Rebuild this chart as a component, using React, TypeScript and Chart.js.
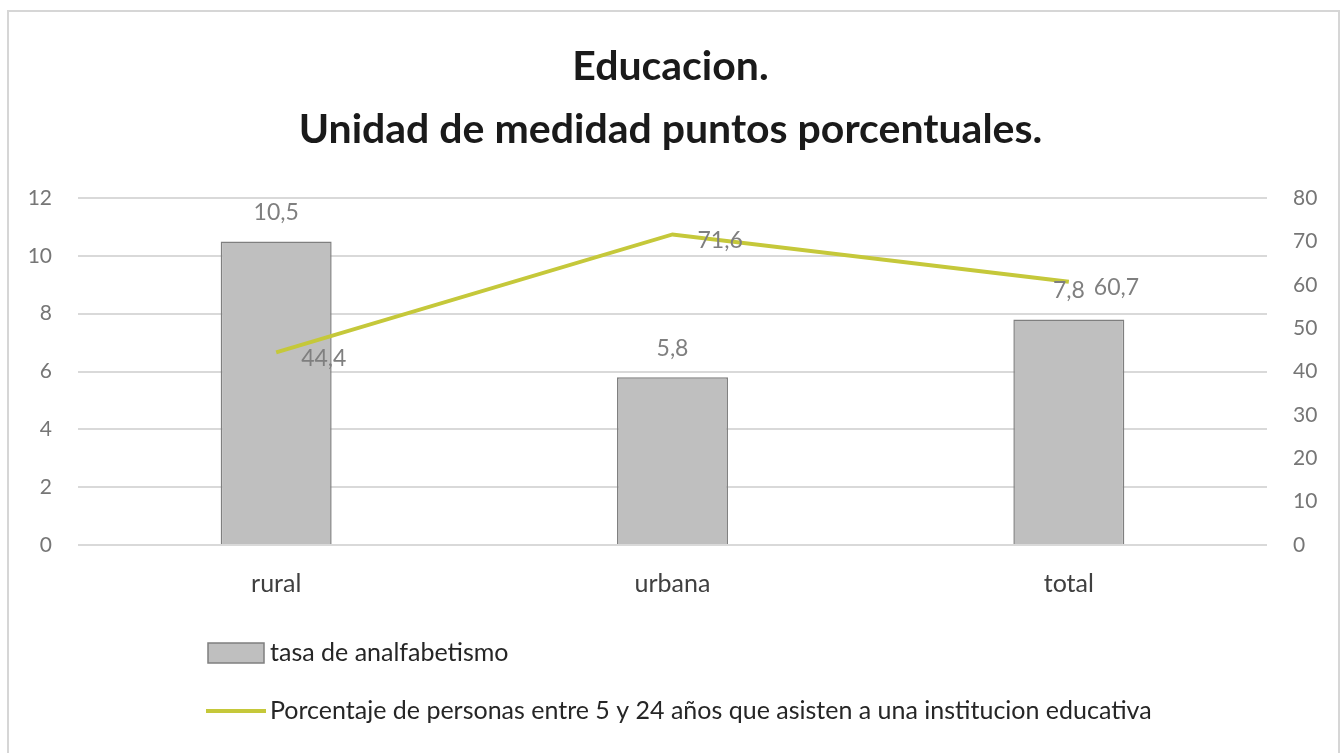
import React, { useEffect, useRef } from "react";
import { Chart, registerables } from "chart.js";

Chart.register(...registerables);

const categories = ["rural", "urbana", "total"];
const tasaAnalfabetismo = [10.5, 5.8, 7.8];
const porcentajeAsistencia = [44.4, 71.6, 60.7];
const titleLines = ["Educacion.", "Unidad de medidad puntos porcentuales."];
const legendLabels = [
  "tasa de analfabetismo",
  "Porcentaje de personas entre 5 y 24 años que asisten a una institucion educativa",
];
const leftAxis = { min: 0, max: 12, step: 2 };
const rightAxis = { min: 0, max: 80, step: 10 };

const FONT = "Lato, 'Open Sans', sans-serif";
const BAR_FILL = "#bfbfbf";
const BAR_BORDER = "#7f7f7f";
const LINE_COLOR = "#c5c83a";
const LABEL_COLOR = "#7f7f7f";

const fmt = (v: number) => String(v).replace(".", ",");

const labelsPlugin = {
  id: "valueLabels",
  afterDatasetsDraw(chart: any) {
    const ctx = chart.ctx;
    ctx.save();
    ctx.font = `23px ${FONT}`;
    ctx.fillStyle = LABEL_COLOR;
    ctx.textBaseline = "middle";
    const barMeta = chart.getDatasetMeta(0);
    barMeta.data.forEach((el: any, i: number) => {
      ctx.textAlign = "center";
      ctx.fillText(fmt(tasaAnalfabetismo[i]), el.x, el.y - 29);
    });
    const lineMeta = chart.getDatasetMeta(1);
    lineMeta.data.forEach((el: any, i: number) => {
      ctx.textAlign = "left";
      ctx.fillText(fmt(porcentajeAsistencia[i]), el.x + 25, el.y + 6);
    });
    ctx.restore();
  },
};

const legendPlugin = {
  id: "customLegend",
  afterDraw(chart: any) {
    const ctx = chart.ctx;
    ctx.save();
    const x0 = 208;
    const row1 = 653;
    const row2 = 711;
    ctx.fillStyle = BAR_FILL;
    ctx.strokeStyle = BAR_BORDER;
    ctx.lineWidth = 1.5;
    ctx.fillRect(x0, row1 - 10, 56, 20);
    ctx.strokeRect(x0, row1 - 10, 56, 20);
    ctx.strokeStyle = LINE_COLOR;
    ctx.lineWidth = 4;
    ctx.beginPath();
    ctx.moveTo(x0 - 2, row2);
    ctx.lineTo(x0 + 58, row2);
    ctx.stroke();
    ctx.font = `25px ${FONT}`;
    ctx.fillStyle = "#262626";
    ctx.textAlign = "left";
    ctx.textBaseline = "middle";
    ctx.fillText(legendLabels[0], x0 + 62, row1);
    ctx.fillText(legendLabels[1], x0 + 62, row2);
    ctx.restore();
  },
};

export default function App() {
  const canvasRef = useRef<HTMLCanvasElement | null>(null);

  useEffect(() => {
    let chart: Chart | null = null;
    let cancelled = false;
    const make = () => {
      if (cancelled || !canvasRef.current) return;
      chart = new Chart(canvasRef.current, {
        type: "bar",
        data: {
          labels: categories,
          datasets: [
            {
              type: "bar",
              label: legendLabels[0],
              data: tasaAnalfabetismo,
              backgroundColor: BAR_FILL,
              borderColor: BAR_BORDER,
              borderWidth: 1.5,
              barPercentage: 0.28,
              categoryPercentage: 1,
              yAxisID: "y",
              order: 2,
            },
            {
              type: "line",
              label: legendLabels[1],
              data: porcentajeAsistencia,
              borderColor: LINE_COLOR,
              backgroundColor: LINE_COLOR,
              borderWidth: 4,
              pointRadius: 0,
              tension: 0,
              yAxisID: "y1",
              order: 1,
            } as any,
          ],
        },
        options: {
          animation: false,
          responsive: true,
          maintainAspectRatio: false,
          layout: { padding: { top: 0, left: 0, right: 0, bottom: 158 } },
          plugins: {
            legend: { display: false },
            tooltip: { enabled: false },
            title: {
              display: true,
              text: titleLines,
              color: "#1a1a1a",
              font: { family: FONT, size: 41, weight: "bold", lineHeight: 63 / 41 },
              padding: { top: 35.5, bottom: 36.5 },
            },
          },
          scales: {
            x: {
              grid: { display: false, drawTicks: false },
              border: { display: false },
              ticks: {
                color: "#404040",
                font: { family: FONT, size: 25 },
                padding: 24,
              },
              afterFit: (s: any) => {
                s.height = 50;
              },
            },
            y: {
              position: "left",
              min: leftAxis.min,
              max: leftAxis.max,
              ticks: {
                stepSize: leftAxis.step,
                color: "#767676",
                font: { family: FONT, size: 21 },
                padding: 26,
              },
              grid: { color: "#d9d9d9", lineWidth: 2, drawTicks: false },
              border: { display: false },
              afterFit: (s: any) => {
                s.width = 78;
              },
            },
            y1: {
              position: "right",
              min: rightAxis.min,
              max: rightAxis.max,
              ticks: {
                stepSize: rightAxis.step,
                color: "#767676",
                font: { family: FONT, size: 21 },
                padding: 26,
              },
              grid: { display: false, drawTicks: false },
              border: { display: false },
              afterFit: (s: any) => {
                s.width = 74;
              },
            },
          },
        },
        plugins: [labelsPlugin, legendPlugin],
      });
    };
    const fonts: any = (document as any).fonts;
    if (fonts && fonts.load) {
      Promise.all([
        fonts.load(`23px Lato`),
        fonts.load(`bold 41px Lato`),
      ]).then(make, make);
    } else {
      make();
    }
    return () => {
      cancelled = true;
      if (chart) chart.destroy();
    };
  }, []);

  return (
    <div style={{ position: "fixed", left: 0, top: 0, width: 1341, height: 753, overflow: "hidden", background: "#fff" }}>
      <div
        style={{
          position: "absolute",
          left: 7,
          top: 10,
          width: 1329,
          height: 800,
          border: "2px solid #d6d6d6",
        }}
      />
      <div style={{ position: "absolute", left: 0, top: 0, width: 1341, height: 753 }}>
        <canvas ref={canvasRef} />
      </div>
    </div>
  );
}
